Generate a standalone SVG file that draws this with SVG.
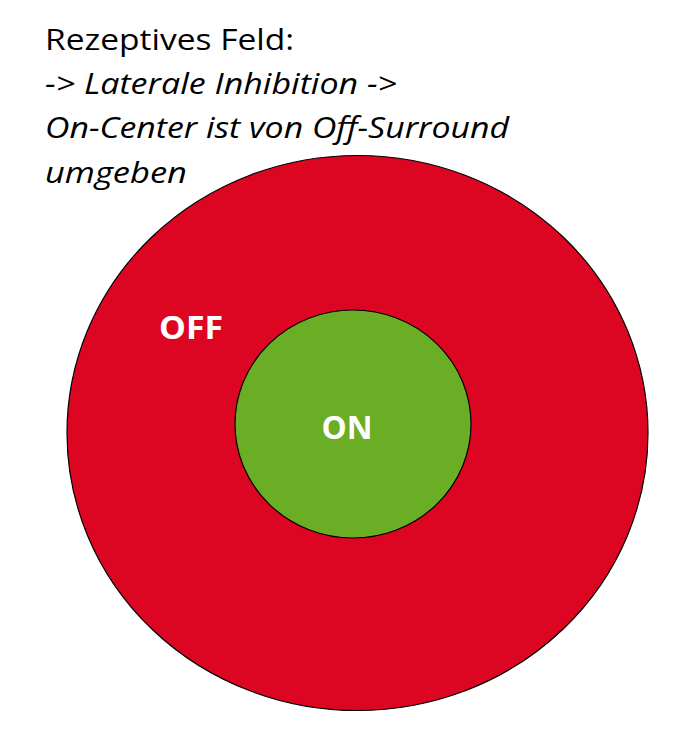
<svg xmlns="http://www.w3.org/2000/svg" width="690" height="754" viewBox="0 0 690 754">
<style>
.t{font-family:"Open Sans","Liberation Sans",sans-serif;font-size:30px;fill:#000}
.i{font-style:italic}
.lbl{font-family:"Open Sans","Liberation Sans",sans-serif;font-weight:bold;font-size:33px;fill:#fff;text-anchor:middle}
</style>
<rect width="690" height="754" fill="#fff"/>
<g id="title">
<text class="t" x="45" y="50" textLength="249" lengthAdjust="spacingAndGlyphs">Rezeptives Feld:</text>
<text class="t i" x="45" y="94" textLength="352" lengthAdjust="spacingAndGlyphs">-&gt; Laterale Inhibition -&gt;</text>
<text class="t i" x="45" y="138" textLength="464" lengthAdjust="spacingAndGlyphs">On-Center ist von Off-Surround</text>
<text class="t i" x="45" y="183" textLength="142" lengthAdjust="spacingAndGlyphs">umgeben</text>
</g>
<g id="off">
<ellipse cx="357.5" cy="433" rx="290.5" ry="277.5" fill="#DC0623" stroke="#000" stroke-width="1.2"/>
<text class="lbl" x="191" y="339" textLength="64" lengthAdjust="spacingAndGlyphs">OFF</text>
</g>
<g id="on">
<ellipse cx="353" cy="424" rx="118" ry="114" fill="#69AE24" stroke="#000" stroke-width="1.2"/>
<text class="lbl" x="347" y="439" textLength="51" lengthAdjust="spacingAndGlyphs">ON</text>
</g>
<g id="connectors"></g>
</svg>
